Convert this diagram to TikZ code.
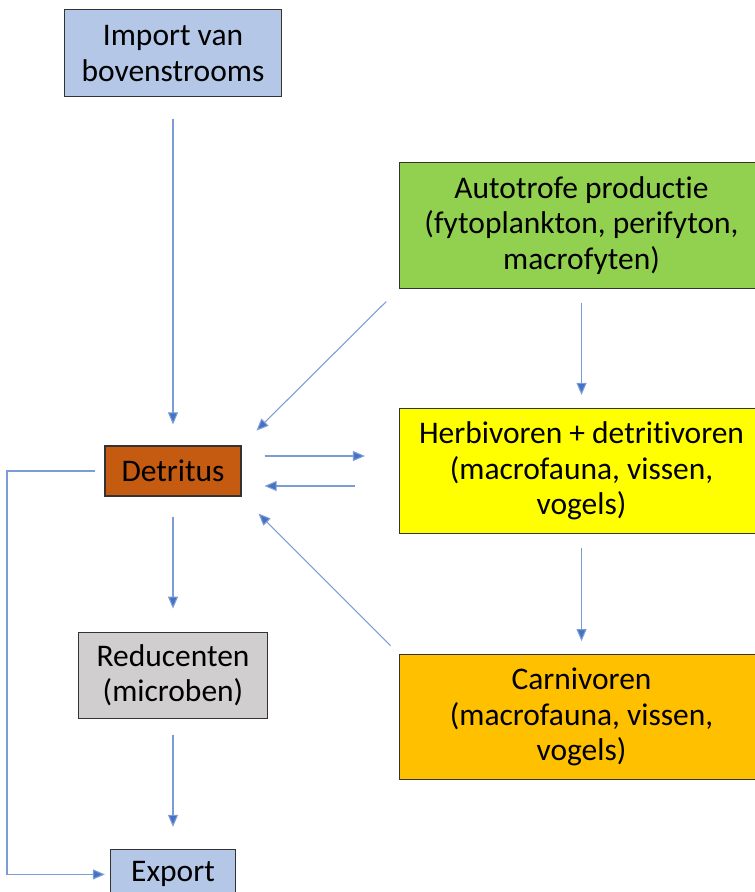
\documentclass[tikz,border=0pt]{standalone}
\usepackage{fontspec}
\setmainfont{Carlito}[Ligatures=NoCommon]
\usetikzlibrary{arrows.meta,positioning,calc}
\definecolor{importblue}{HTML}{B4C7E7}
\definecolor{autogreen}{HTML}{92D050}
\definecolor{herbyellow}{HTML}{FFFF00}
\definecolor{carniorange}{HTML}{FFC000}
\definecolor{detritusbrown}{HTML}{C55A11}
\definecolor{reducgray}{HTML}{D0CECE}
\definecolor{flowblue}{HTML}{4472C4}

\begin{document}
\begin{tikzpicture}[
  x=0.75pt, y=-0.75pt,
  font=\fontsize{23.6}{26.6}\selectfont,
  box/.style={
    draw=black!80,
    line width=0.9pt,
    align=center,
    inner sep=2pt
  },
  arrow/.style={-{Triangle[length=9pt,width=7.5pt,fill=flowblue]}, draw=flowblue!70, line width=0.8pt}
]
\useasboundingbox (0,0) rectangle (755,892);
\clip (0,0) rectangle (755,892);

% left column
\node[box, fill=detritusbrown, minimum width=102pt, minimum height=37.5pt] (D) at (173,471) {Detritus};

\node[box, fill=importblue, above=261pt of D, minimum width=162.75pt, minimum height=65.25pt] (I)
{Import van\\bovenstrooms};

\node[box, fill=reducgray, below=101.25pt of D, minimum width=141.75pt, minimum height=64.5pt] (R)
{Reducenten\\(microben)};

\node[box, fill=importblue, below=97.5pt of R, minimum width=93.75pt, minimum height=37.5pt] (E)
{Export};

% right column
\node[box, fill=herbyellow, right=118pt of D, minimum width=273pt, minimum height=93.75pt] (H)
{Herbivoren + detritivoren\\(macrofauna, vissen,\\vogels)};

\node[box, fill=autogreen, above=89.25pt of H, minimum width=273pt, minimum height=94.5pt] (A)
{Autotrofe productie\\(fytoplankton, perifyton,\\macrofyten)};

\node[box, fill=carniorange, below=90pt of H, minimum width=273pt, minimum height=93.75pt] (C)
{Carnivoren\\(macrofauna, vissen,\\vogels)};

% flows
\draw[arrow, shorten <=16.5pt, shorten >=15.75pt] (I) -- (D);
\draw[arrow, shorten <=13.5pt, shorten >=15.75pt] (A.south west) -- (D.north east);
\draw[arrow, shorten <=10.5pt, shorten >=9.75pt] (A) -- (H);
\draw[arrow, shorten <=17.25pt, shorten >=25.5pt] ($(D.east)+(0,-15)$) -- ($(H.west)+(0,-15)$);
\draw[arrow, shorten <=33pt, shorten >=17.25pt] ($(H.west)+(0,15)$) -- ($(D.east)+(0,15)$);
\draw[arrow, shorten <=10.5pt, shorten >=9.75pt] (H) -- (C);
\draw[arrow, shorten <=9pt, shorten >=18pt] (C.north west) -- (D.south east);
\draw[arrow, shorten <=15pt, shorten >=17.25pt] (D) -- (R);
\draw[arrow, shorten <=12pt, shorten >=16.5pt] (R) -- (E);

\coordinate (L) at (7,0);
\draw[arrow, shorten <=6.75pt, shorten >=3.75pt] (D.west) -- (D.west -| L) |- (E.west);
\end{tikzpicture}
\end{document}
